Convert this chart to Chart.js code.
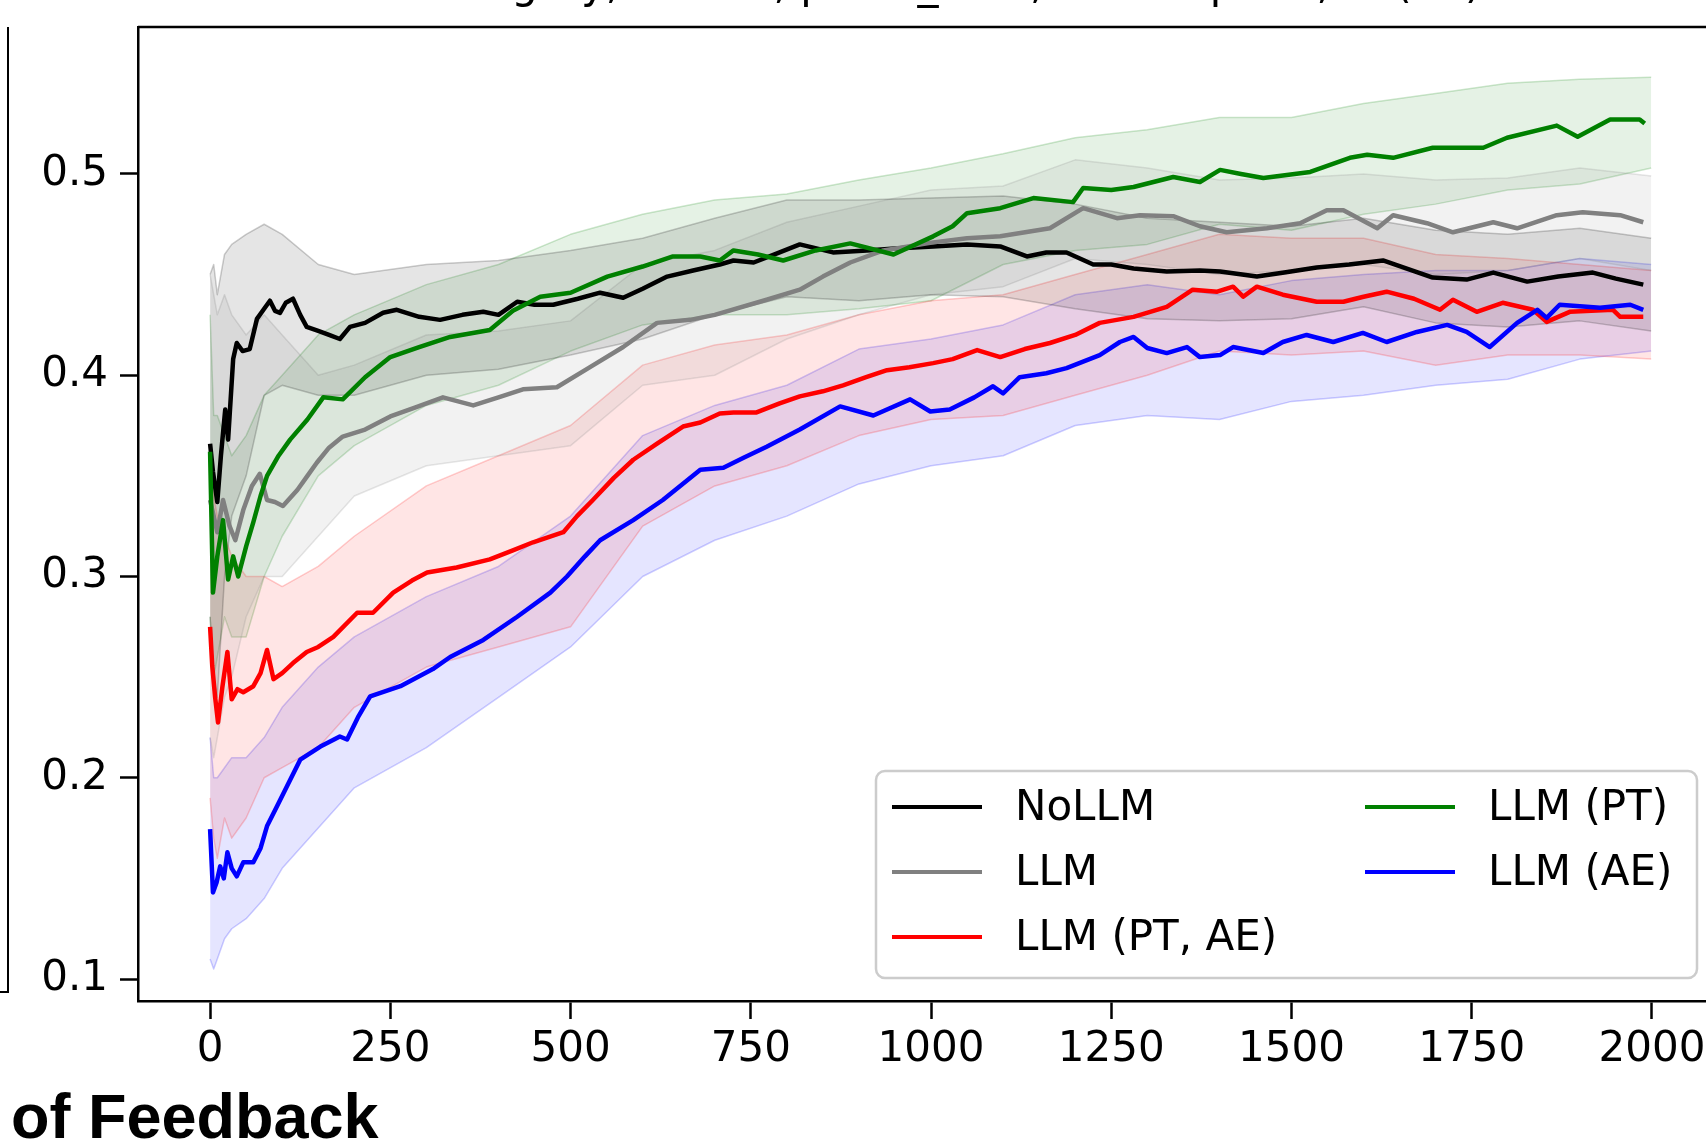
<!DOCTYPE html>
<html>
<head>
<meta charset="utf-8">
<script src="https://cdn.jsdelivr.net/npm/chart.js@4.4.1/dist/chart.umd.min.js"></script>
<style>
  html, body { margin: 0; padding: 0; background: #fff; }
  #wrap { position: relative; width: 1706px; height: 1142px; overflow: hidden; }
  #chart { position: absolute; left: 0; top: 0; }
  .side-frame {
    position: absolute; left: -20px; top: 27px; width: 27px; height: 964px;
    border-right: 2.5px solid #000; border-bottom: 2.5px solid #000;
  }
  .xlabel-rest {
    position: absolute; left: 11px; top: 1080px; line-height: 63px;
    font: bold 63px "Liberation Sans", Arial, sans-serif; color: #000; white-space: nowrap;
  }
</style>
</head>
<body>
<div id="wrap">
  <canvas id="chart" width="1706" height="1142"></canvas>
  <div class="side-frame"></div>
  <div class="xlabel-rest">of Feedback</div>
</div>
<script>
// tick labels
const xTicks = [0, 250, 500, 750, 1000, 1250, 1500, 1750, 2000];
const yTicks = [0.1, 0.2, 0.3, 0.4, 0.5];

const seriesNames = ['NoLLM', 'LLM', 'LLM (PT, AE)', 'LLM (PT)', 'LLM (AE)'];
const seriesColors = ['#000000', '#808080', '#ff0000', '#008000', '#0000ff'];

// mean curves, [feedback count, value]
const noLlm = [[0,0.366],[4,0.352],[10,0.337],[15,0.36],[21,0.383],[25,0.368],[32,0.408],[37,0.416],
  [45,0.412],[55,0.413],[65,0.428],[75,0.433],[83,0.437],[90,0.432],[97,0.431],[105,0.436],[115,0.438],
  [125,0.43],[134,0.424],[150,0.422],[165,0.42],[180,0.418],[194,0.424],[215,0.426],[240,0.431],
  [259,0.4325],[290,0.429],[319,0.4275],[350,0.43],[379,0.4315],[400,0.43],[426,0.4365],[450,0.435],
  [476,0.435],[510,0.438],[541,0.441],[573,0.4385],[600,0.443],[634,0.449],[670,0.452],[707,0.455],
  [726,0.457],[754,0.456],[790,0.461],[818,0.465],[864,0.461],[911,0.462],[950,0.463],[1003,0.464],
  [1050,0.465],[1096,0.464],[1133,0.459],[1160,0.461],[1188,0.461],[1225,0.455],[1250,0.455],
  [1281,0.453],[1327,0.4515],[1373,0.452],[1401,0.4515],[1452,0.449],[1490,0.451],[1535,0.4535],
  [1580,0.455],[1627,0.457],[1660,0.453],[1696,0.4485],[1743,0.4475],[1780,0.451],[1827,0.4465],
  [1870,0.449],[1918,0.451],[1950,0.448],[1988,0.445]];

const llm = [[0,0.338],[5,0.33],[10,0.322],[18,0.338],[27,0.325],[35,0.318],[46,0.333],[58,0.345],
  [69,0.351],[79,0.338],[90,0.337],[101,0.335],[121,0.343],[135,0.35],[148,0.3565],[165,0.364],
  [184,0.3695],[215,0.373],[250,0.3795],[285,0.384],[323,0.389],[365,0.385],[400,0.389],[434,0.393],
  [481,0.394],[527,0.404],[573,0.414],[620,0.426],[666,0.4275],[700,0.43],[772,0.4375],[818,0.4425],
  [850,0.449],[888,0.456],[934,0.462],[1003,0.466],[1050,0.468],[1096,0.469],[1165,0.473],[1211,0.483],
  [1258,0.478],[1290,0.4795],[1336,0.479],[1373,0.474],[1410,0.471],[1466,0.473],[1512,0.4755],
  [1549,0.482],[1572,0.482],[1619,0.473],[1641,0.4795],[1688,0.4755],[1724,0.471],[1780,0.476],
  [1813,0.473],[1868,0.4795],[1904,0.481],[1956,0.4795],[1988,0.476]];

const llmPtAe = [[0,0.275],[3,0.2555],[7,0.24],[11,0.2275],[17,0.245],[24,0.2625],[30,0.239],[38,0.244],
  [46,0.2425],[60,0.2455],[70,0.252],[79,0.2635],[88,0.249],[100,0.252],[115,0.257],[134,0.2625],
  [150,0.265],[171,0.27],[204,0.282],[226,0.282],[254,0.292],[280,0.298],[301,0.302],[342,0.3045],
  [388,0.3085],[420,0.313],[448,0.317],[490,0.322],[509,0.33],[531,0.338],[560,0.349],[587,0.358],
  [620,0.366],[656,0.3745],[680,0.3765],[707,0.381],[726,0.3815],[758,0.3815],[790,0.386],[818,0.3895],
  [850,0.392],[878,0.395],[910,0.399],[939,0.4025],[970,0.404],[1003,0.406],[1030,0.408],[1064,0.4125],
  [1096,0.409],[1130,0.413],[1165,0.416],[1200,0.42],[1234,0.426],[1281,0.429],[1327,0.434],
  [1363,0.4425],[1397,0.4415],[1419,0.444],[1433,0.439],[1452,0.444],[1488,0.44],[1535,0.4365],
  [1572,0.4365],[1600,0.439],[1632,0.4415],[1670,0.438],[1706,0.4325],[1724,0.4375],[1757,0.4315],
  [1793,0.436],[1835,0.4325],[1854,0.4265],[1886,0.4315],[1946,0.4325],[1956,0.429],[1988,0.429]];

const llmPt = [[0,0.362],[4,0.292],[10,0.31],[18,0.328],[25,0.2985],[32,0.31],[39,0.3],[50,0.315],
  [60,0.327],[70,0.34],[79,0.35],[95,0.36],[111,0.368],[135,0.378],[157,0.389],[184,0.388],[215,0.399],
  [250,0.409],[290,0.414],[333,0.419],[388,0.4225],[420,0.432],[458,0.439],[500,0.441],[551,0.449],
  [600,0.454],[642,0.459],[680,0.459],[707,0.457],[726,0.462],[760,0.46],[795,0.457],[840,0.462],
  [888,0.4655],[948,0.46],[1003,0.469],[1030,0.474],[1050,0.4805],[1096,0.483],[1142,0.488],
  [1197,0.486],[1211,0.493],[1250,0.492],[1281,0.4935],[1336,0.4985],[1373,0.496],[1401,0.502],
  [1430,0.5],[1461,0.498],[1526,0.501],[1581,0.508],[1605,0.5095],[1641,0.508],[1696,0.513],
  [1766,0.513],[1799,0.518],[1868,0.524],[1897,0.5185],[1942,0.527],[1983,0.527],[1990,0.525]];

const llmAe = [[0,0.1745],[4,0.143],[9,0.148],[14,0.156],[19,0.15],[24,0.163],[30,0.155],[37,0.151],
  [46,0.158],[60,0.158],[70,0.165],[79,0.176],[93,0.186],[107,0.196],[125,0.209],[153,0.2155],
  [180,0.2205],[190,0.219],[205,0.23],[222,0.2405],[264,0.2455],[309,0.254],[333,0.26],[379,0.2685],
  [426,0.28],[472,0.292],[495,0.3],[520,0.31],[541,0.318],[587,0.328],[628,0.338],[680,0.353],
  [712,0.354],[740,0.359],[772,0.3645],[818,0.373],[874,0.3845],[920,0.38],[971,0.388],[999,0.382],
  [1026,0.383],[1060,0.389],[1086,0.3945],[1100,0.391],[1123,0.399],[1160,0.401],[1188,0.4035],
  [1234,0.41],[1262,0.4165],[1281,0.419],[1300,0.4135],[1327,0.411],[1355,0.414],[1373,0.409],
  [1401,0.41],[1419,0.414],[1461,0.411],[1488,0.4165],[1521,0.42],[1558,0.4165],[1599,0.421],
  [1632,0.4165],[1674,0.4215],[1716,0.425],[1743,0.4215],[1775,0.414],[1813,0.426],[1841,0.4325],
  [1854,0.4285],[1872,0.435],[1928,0.4335],[1970,0.435],[1988,0.4325]];

// shaded bands (upper / lower edge) on a shared grid
const bandX = [0, 5, 10, 20, 30, 50, 75, 100, 150, 200, 300, 400, 500, 600, 700, 800, 900, 1000,
  1100, 1200, 1300, 1400, 1500, 1600, 1700, 1800, 1900, 1999];
const noLlmUpper = [0.45, 0.455, 0.44, 0.46, 0.465, 0.47, 0.475, 0.47, 0.455, 0.45, 0.455, 0.457, 0.462, 0.468,
  0.478, 0.487, 0.487, 0.488, 0.489, 0.485, 0.478, 0.476, 0.474, 0.478, 0.472, 0.47, 0.473, 0.468];
const noLlmLower = [0.28, 0.25, 0.24, 0.3, 0.33, 0.35, 0.39, 0.395, 0.39, 0.39, 0.4, 0.403, 0.41, 0.418,
  0.43, 0.439, 0.437, 0.44, 0.439, 0.433, 0.428, 0.427, 0.428, 0.434, 0.426, 0.424, 0.427, 0.422];
const llmUpper = [0.45, 0.44, 0.43, 0.44, 0.43, 0.42, 0.43, 0.42, 0.4, 0.405, 0.42, 0.422, 0.427, 0.455,
  0.462, 0.476, 0.484, 0.492, 0.494, 0.507, 0.503, 0.497, 0.498, 0.5, 0.497, 0.498, 0.503, 0.499];
const llmLower = [0.22, 0.21, 0.22, 0.24, 0.25, 0.28, 0.3, 0.3, 0.32, 0.34, 0.355, 0.36, 0.365, 0.395,
  0.4, 0.418, 0.43, 0.44, 0.444, 0.458, 0.455, 0.45, 0.452, 0.455, 0.45, 0.452, 0.458, 0.452];
const ptAeUpper = [0.36, 0.34, 0.33, 0.32, 0.31, 0.3, 0.3, 0.295, 0.305, 0.32, 0.345, 0.36, 0.375, 0.405,
  0.415, 0.42, 0.43, 0.437, 0.44, 0.45, 0.46, 0.47, 0.468, 0.468, 0.46, 0.458, 0.455, 0.452];
const ptAeLower = [0.19, 0.17, 0.16, 0.18, 0.17, 0.18, 0.2, 0.205, 0.215, 0.235, 0.255, 0.265, 0.275, 0.325,
  0.345, 0.355, 0.37, 0.378, 0.38, 0.39, 0.4, 0.412, 0.41, 0.412, 0.405, 0.41, 0.41, 0.408];
const ptUpper = [0.43, 0.38, 0.38, 0.37, 0.36, 0.37, 0.39, 0.4, 0.42, 0.43, 0.445, 0.455, 0.47, 0.48,
  0.487, 0.49, 0.497, 0.503, 0.51, 0.518, 0.522, 0.528, 0.528, 0.535, 0.54, 0.545, 0.547, 0.548];
const ptLower = [0.28, 0.25, 0.26, 0.28, 0.27, 0.27, 0.3, 0.32, 0.35, 0.365, 0.385, 0.395, 0.412, 0.425,
  0.43, 0.43, 0.433, 0.437, 0.455, 0.462, 0.465, 0.475, 0.472, 0.48, 0.485, 0.492, 0.495, 0.503];
const aeUpper = [0.22, 0.2, 0.2, 0.205, 0.21, 0.21, 0.22, 0.235, 0.255, 0.27, 0.29, 0.305, 0.33, 0.37,
  0.385, 0.395, 0.413, 0.418, 0.425, 0.44, 0.445, 0.44, 0.447, 0.45, 0.452, 0.452, 0.458, 0.455];
const aeLower = [0.11, 0.105, 0.11, 0.12, 0.125, 0.13, 0.14, 0.155, 0.175, 0.195, 0.215, 0.24, 0.265, 0.3,
  0.318, 0.33, 0.346, 0.355, 0.36, 0.375, 0.38, 0.378, 0.387, 0.39, 0.395, 0.398, 0.408, 0.412];

const titleText = 'Category, Cosine, probs_max, Item-top100, All(50)';

const means = [noLlm, llm, llmPtAe, llmPt, llmAe];
const uppers = [noLlmUpper, llmUpper, ptAeUpper, ptUpper, aeUpper];
const lowers = [noLlmLower, llmLower, ptAeLower, ptLower, aeLower];

function rgba(hex, a) {
  const n = parseInt(hex.slice(1), 16);
  return `rgba(${(n >> 16) & 255}, ${(n >> 8) & 255}, ${n & 255}, ${a})`;
}

const datasets = [];
means.forEach((m, i) => {
  datasets.push({
    label: seriesNames[i],
    data: m.map(p => ({ x: p[0], y: p[1] })),
    borderColor: seriesColors[i],
    borderWidth: 4.5,
    pointRadius: 0,
    fill: false,
    order: 5 - i
  });
});
means.forEach((m, i) => {
  datasets.push({
    label: '_lower',
    data: bandX.map((x, k) => ({ x, y: lowers[i][k] })),
    borderColor: rgba(seriesColors[i], 0.2),
    borderWidth: 1.5,
    pointRadius: 0,
    fill: false,
    order: 20
  });
  datasets.push({
    label: '_upper',
    data: bandX.map((x, k) => ({ x, y: uppers[i][k] })),
    borderColor: rgba(seriesColors[i], 0.2),
    backgroundColor: rgba(seriesColors[i], 0.1),
    borderWidth: 1.5,
    pointRadius: 0,
    fill: '-1',
    order: 20
  });
});

const font = { family: 'DejaVu Sans', size: 42 };

// frame top line, legend and the clipped title
const decorations = {
  id: 'decorations',
  afterDraw(chart) {
    const { ctx, chartArea } = chart;
    ctx.save();
    ctx.strokeStyle = '#000';
    ctx.lineWidth = 2.5;
    ctx.beginPath();
    ctx.moveTo(chartArea.left, chartArea.top);
    ctx.lineTo(chartArea.right, chartArea.top);
    ctx.stroke();

    ctx.fillStyle = '#000';
    ctx.font = '42px "DejaVu Sans"';
    ctx.textBaseline = 'alphabetic';
    ctx.textAlign = 'left';
    ctx.fillText(titleText, 414, -2);

    // legend box
    const bx = 876, by = 771, bw = 821, bh = 207, r = 9;
    ctx.beginPath();
    ctx.moveTo(bx + r, by);
    ctx.arcTo(bx + bw, by, bx + bw, by + bh, r);
    ctx.arcTo(bx + bw, by + bh, bx, by + bh, r);
    ctx.arcTo(bx, by + bh, bx, by, r);
    ctx.arcTo(bx, by, bx + bw, by, r);
    ctx.closePath();
    ctx.fillStyle = 'rgba(255,255,255,0.8)';
    ctx.fill();
    ctx.strokeStyle = '#cccccc';
    ctx.lineWidth = 2.5;
    ctx.stroke();

    const lineX = [892, 1365];
    const textX = [1015, 1488];
    const rowY = [807, 872, 937];
    ctx.textBaseline = 'middle';
    seriesNames.forEach((name, i) => {
      const col = i < 3 ? 0 : 1;
      const row = i < 3 ? i : i - 3;
      ctx.strokeStyle = seriesColors[i];
      ctx.lineWidth = 4;
      ctx.beginPath();
      ctx.moveTo(lineX[col], rowY[row]);
      ctx.lineTo(lineX[col] + 90, rowY[row]);
      ctx.stroke();
      ctx.fillStyle = '#000';
      ctx.fillText(name, textX[col], rowY[row] + 2);
    });
    ctx.restore();
  }
};

new Chart(document.getElementById('chart'), {
  type: 'line',
  data: { datasets },
  plugins: [decorations],
  options: {
    responsive: false,
    animation: false,
    devicePixelRatio: 1,
    layout: { padding: { top: 27, left: 0, right: 0, bottom: 0 } },
    elements: { line: { tension: 0, borderJoinStyle: 'round' } },
    plugins: { legend: { display: false }, tooltip: { enabled: false } },
    scales: {
      x: {
        type: 'linear',
        min: -100,
        max: 2075,
        afterBuildTicks: s => { s.ticks = xTicks.map(v => ({ value: v })); },
        afterFit: s => { s.height = 141; s.paddingLeft = 0; s.paddingRight = 0; },
        grid: { drawOnChartArea: false, drawTicks: true, tickLength: 18, tickWidth: 2.5, tickColor: '#000' },
        border: { display: true, color: '#000', width: 2.5 },
        ticks: { color: '#000', font, padding: 6, maxRotation: 0, autoSkip: false, callback: v => String(v) }
      },
      y: {
        type: 'linear',
        min: 0.0891,
        max: 0.573,
        afterBuildTicks: s => { s.ticks = yTicks.map(v => ({ value: v })); },
        afterFit: s => { s.width = 138; s.paddingTop = 0; s.paddingBottom = 0; },
        grid: { drawOnChartArea: false, drawTicks: true, tickLength: 18, tickWidth: 2.5, tickColor: '#000' },
        border: { display: true, color: '#000', width: 2.5 },
        ticks: { color: '#000', font, padding: 12, callback: v => v.toFixed(1) }
      }
    }
  }
});
</script>
</body>
</html>
